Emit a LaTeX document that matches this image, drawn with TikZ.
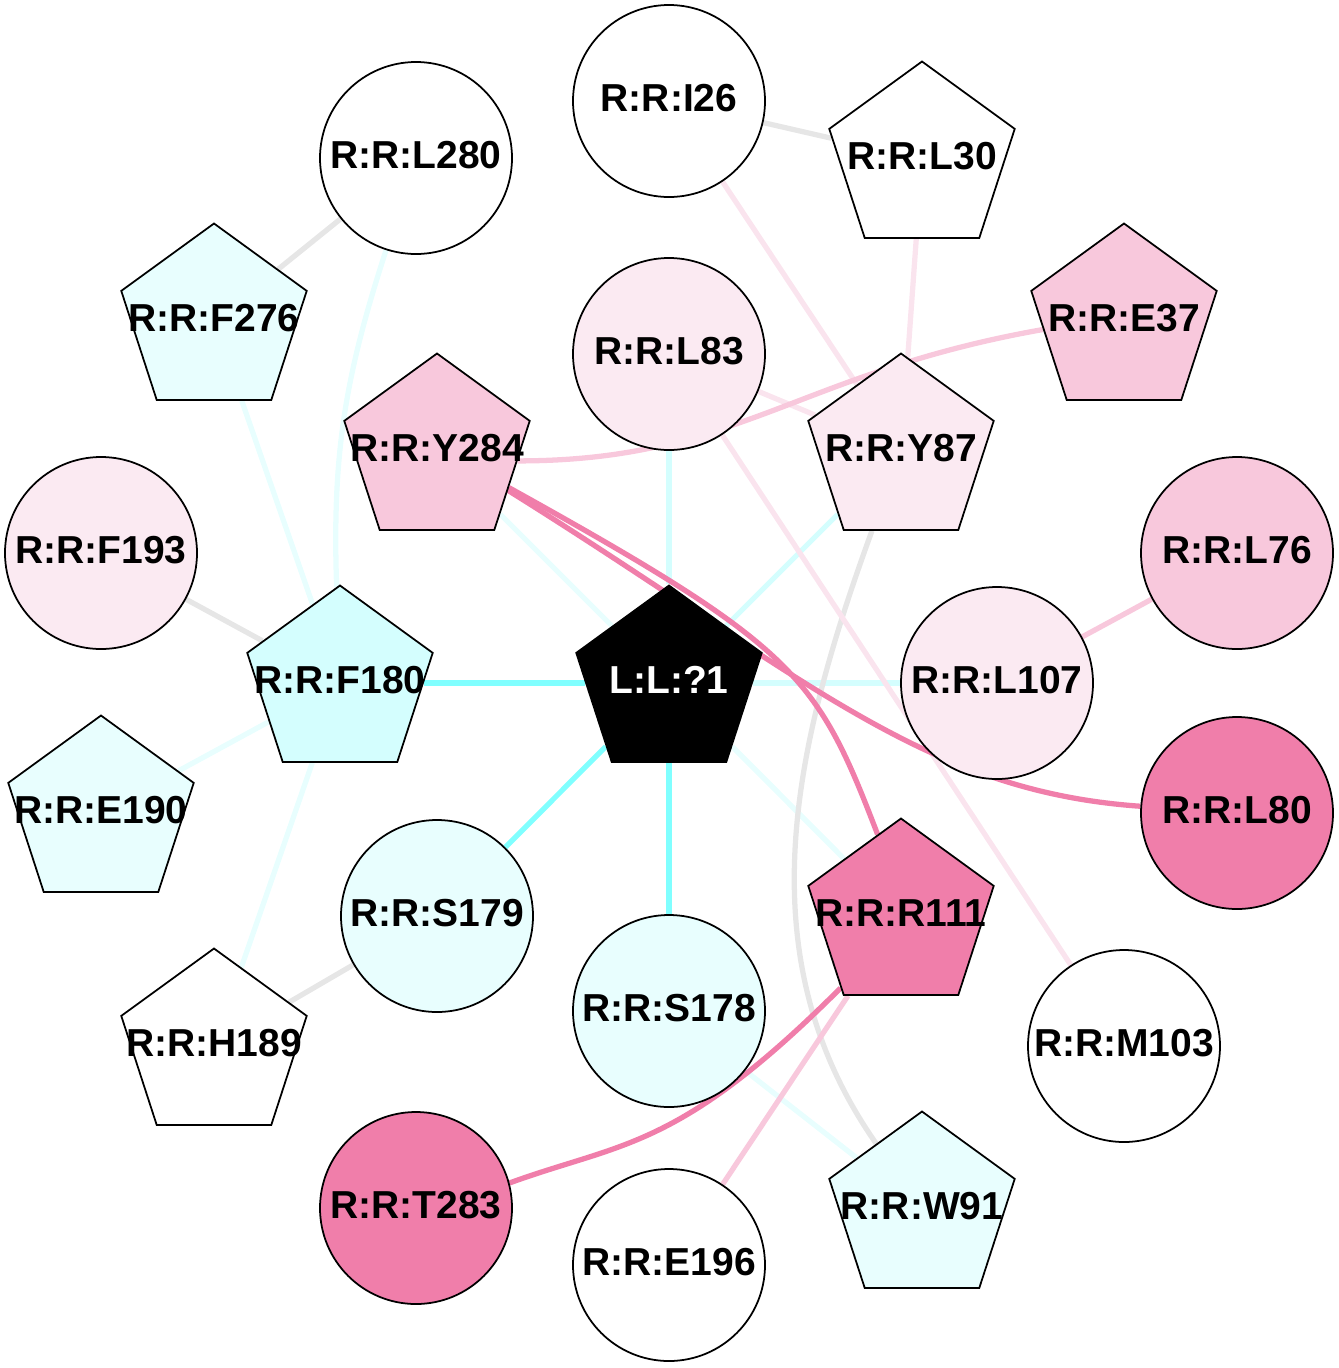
\documentclass[tikz,border=0pt]{standalone}
\usepackage{fontspec}
\setmainfont{Liberation Sans}
\usepackage{tikz}
\usetikzlibrary{shapes.geometric}
\usetikzlibrary{backgrounds}
\usepackage{xcolor}

\definecolor{pinkA}{HTML}{F07EAA}
\definecolor{pinkB}{HTML}{F8C8DC}
\definecolor{pinkC}{HTML}{FBEAF2}
\definecolor{pinkL}{HTML}{FAE4EE}
\definecolor{cyanA}{HTML}{80FFFF}
\definecolor{cyanB}{HTML}{D4FEFE}
\definecolor{cyanC}{HTML}{E8FEFE}
\definecolor{greyA}{HTML}{E6E6E6}

% label text, zero sized so the shape keeps its size
\newcommand{\nlab}[1]{\makebox[0pt]{\raisebox{-0.10cm}[0pt][0pt]{#1}}}

\tikzset{
  res/.style={draw=black, line width=0.5pt, inner sep=0pt,
    font=\fontsize{11.1}{13}\selectfont\bfseries},
  rcirc/.style={res, circle, minimum size=1.92cm},
  rpent/.style={res, regular polygon, regular polygon sides=5, minimum size=1.95cm},
  link/.style={line width=1.5pt}
}

\begin{document}
\begin{tikzpicture}

\useasboundingbox (0,0) rectangle (13.38,-13.68);

% ligand
\node[rpent, fill=black, text=white] (L1) at (6.69,-6.83) {\nlab{L:L:?1}};

% circles
{
\node[rcirc, fill=white] (I26) at (6.69,-1.01) {\nlab{R:R:I26}};
\node[rcirc, fill=white] (L280) at (4.16,-1.58) {\nlab{R:R:L280}};
\node[rcirc, fill=pinkC] (L83) at (6.69,-3.54) {\nlab{R:R:L83}};
\node[rcirc, fill=pinkC] (F193) at (1.01,-5.53) {\nlab{R:R:F193}};
\node[rcirc, fill=pinkB] (L76) at (12.37,-5.53) {\nlab{R:R:L76}};
\node[rcirc, fill=pinkC] (L107) at (9.97,-6.83) {\nlab{R:R:L107}};
\node[rcirc, fill=pinkA] (L80) at (12.37,-8.13) {\nlab{R:R:L80}};
\node[rcirc, fill=cyanC] (S179) at (4.37,-9.16) {\nlab{R:R:S179}};
\node[rcirc, fill=cyanC] (S178) at (6.69,-10.11) {\nlab{R:R:S178}};
\node[rcirc, fill=white] (M103) at (11.24,-10.46) {\nlab{R:R:M103}};
\node[rcirc, fill=pinkA] (T283) at (4.16,-12.08) {\nlab{R:R:T283}};
\node[rcirc, fill=white] (E196) at (6.69,-12.65) {\nlab{R:R:E196}};
}

% pentagons
{
\node[rpent, fill=white] (L30) at (9.22,-1.59) {\nlab{R:R:L30}};
\node[rpent, fill=cyanC] (F276) at (2.14,-3.21) {\nlab{R:R:F276}};
\node[rpent, fill=pinkB] (E37) at (11.24,-3.21) {\nlab{R:R:E37}};
\node[rpent, fill=pinkB] (Y284) at (4.37,-4.51) {\nlab{R:R:Y284}};
\node[rpent, fill=pinkC] (Y87) at (9.01,-4.51) {\nlab{R:R:Y87}};
\node[rpent, fill=cyanB] (F180) at (3.40,-6.83) {\nlab{R:R:F180}};
\node[rpent, fill=cyanC] (E190) at (1.01,-8.13) {\nlab{R:R:E190}};
\node[rpent, fill=pinkA] (R111) at (9.01,-9.16) {\nlab{R:R:R111}};
\node[rpent, fill=white] (H189) at (2.14,-10.46) {\nlab{R:R:H189}};
\node[rpent, fill=cyanC] (W91) at (9.22,-12.09) {\nlab{R:R:W91}};
}

\begin{pgfonlayer}{background}
% cyan links
\draw[link, cyanA] (L1) -- (F180);
\draw[link, cyanA] (L1) -- (S179);
\draw[link, cyanA] (L1) -- (S178);
\draw[link, cyanB] (L1) -- (L83);
\draw[link, cyanB] (L1) -- (Y87);
\draw[link, cyanB] (L1) -- (L107);
\draw[link, cyanC] (L1) -- (Y284);
\draw[link, cyanC] (L1) -- (R111);
\draw[link, cyanC] (S178) -- (W91);
\draw[link, cyanC] (F180) -- (F276);
\draw[link, cyanC] (F180) -- (E190);
\draw[link, cyanC] (F180) -- (H189);
\draw[link, cyanC] (F180) to[out=92, in=252] (L280);

% grey links
\draw[link, greyA] (F180) -- (F193);
\draw[link, greyA] (L280) -- (F276);
\draw[link, greyA] (I26) -- (L30);
\draw[link, greyA] (H189) -- (S179);
\draw[link, greyA] (Y87) to[out=250, in=125, out distance=2.3cm, in distance=2.3cm] (W91);

% pink links
\draw[link, pinkL] (I26) -- (Y87);
\draw[link, pinkL] (L30) -- (Y87);
\draw[link, pinkL] (L83) -- (M103);
\draw[link, pinkL] (L83) -- (Y87);
\draw[link, pinkB] (Y284.-7) to[out=0, in=190, out distance=2.2cm, in distance=2.5cm] (E37.186);
\draw[link, pinkB] (L107) -- (L76);
\draw[link, pinkB] (R111) -- (E196);
\draw[link, pinkA] (Y284.-27) to[out=-29, in=111, out distance=3.3cm, in distance=1.7cm] (R111.106);
\draw[link, pinkA] (Y284.-29) to[out=-32, in=176, out distance=3.5cm, in distance=2.2cm] (L80.176);
\draw[link, pinkA] (R111.230) to[out=225, in=20, out distance=2.3cm, in distance=1.2cm] (T283.15);
\end{pgfonlayer}

\end{tikzpicture}
\end{document}
